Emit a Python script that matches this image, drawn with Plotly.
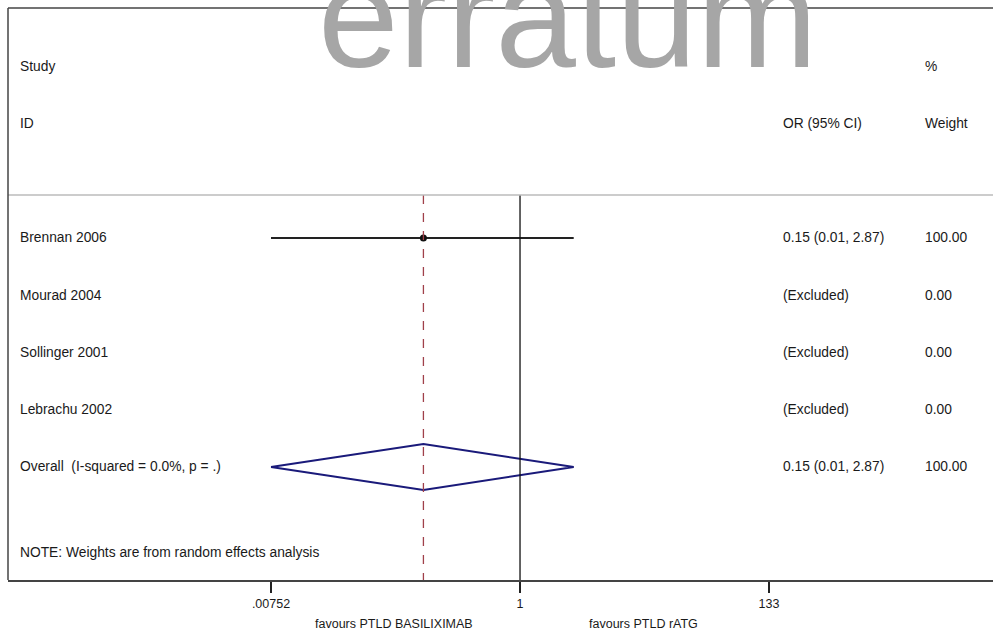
import plotly.graph_objects as go

# ---- data ----
studies = ["Brennan 2006", "Mourad 2004", "Sollinger 2001", "Lebrachu 2002"]
study_or = [0.15, None, None, None]
study_lo = [0.00752, None, None, None]
study_hi = [2.87, None, None, None]
or_text = ["0.15 (0.01, 2.87)", "(Excluded)", "(Excluded)", "(Excluded)"]
weight_text = ["100.00", "0.00", "0.00", "0.00"]
overall_label = "Overall  (I-squared = 0.0%, p = .)"
overall_or = 0.15
overall_lo = 0.00752
overall_hi = 2.87
overall_or_text = "0.15 (0.01, 2.87)"
overall_weight_text = "100.00"
tick_vals = [0.00752, 1, 133]
tick_text = [".00752", "1", "133"]

FONT = "Arial, Liberation Sans, sans-serif"
TXT = "#1a1a1a"

fig = go.Figure()

# study CI lines + point
for i, (o, lo, hi) in enumerate(zip(study_or, study_lo, study_hi)):
    if o is None:
        continue
    fig.add_trace(go.Scatter(x=[lo, hi], y=[i, i], mode="lines",
                             line=dict(color="#222222", width=2), hoverinfo="skip"))
    fig.add_trace(go.Scatter(x=[o], y=[i], mode="markers",
                             marker=dict(color="#111111", size=7), hoverinfo="skip"))

# overall diamond
oy = len(studies)
fig.add_trace(go.Scatter(x=[overall_lo, overall_or, overall_hi, overall_or, overall_lo],
                         y=[oy, oy - 0.4, oy, oy + 0.4, oy], mode="lines",
                         line=dict(color="#1a1a7a", width=2), hoverinfo="skip"))

shapes = [
    dict(type="line", xref="x", yref="y", x0=1, x1=1, y0=-0.75, y1=5.974,
         line=dict(color="#111111", width=1.3)),
    dict(type="line", xref="x", yref="y", x0=overall_or, x1=overall_or, y0=-0.75, y1=5.974,
         line=dict(color="#a0404a", width=1.3, dash="dash")),
    dict(type="line", xref="paper", yref="y", x0=0, x1=1, y0=-0.75, y1=-0.75,
         line=dict(color="#bbbbbb", width=1.5)),
    dict(type="line", xref="paper", yref="paper", x0=0, x1=1, y0=1, y1=1,
         line=dict(color="#444444", width=1.5)),
    dict(type="line", xref="paper", yref="paper", x0=0, x1=0, y0=0, y1=1,
         line=dict(color="#444444", width=1.5)),
]

ann = []
def txt(x, y, s, xref="paper", yref="y", size=13.8, xanchor="left"):
    ann.append(dict(x=x, y=y, xref=xref, yref=yref, text=s, showarrow=False,
                    xanchor=xanchor, yanchor="middle",
                    font=dict(family=FONT, size=size, color=TXT)))

X_LABEL = 0.0102
X_OR = 0.7848
X_W = 0.929
txt(X_LABEL, -3, "Study")
txt(X_LABEL, -2, "ID")
txt(X_OR, -2, "OR (95% CI)")
txt(X_W, -3, "%")
txt(X_W, -2, "Weight")
for i, s in enumerate(studies):
    txt(X_LABEL, i, s)
    txt(X_OR, i, or_text[i])
    txt(X_W, i, weight_text[i])
txt(X_LABEL, oy, overall_label)
txt(X_OR, oy, overall_or_text)
txt(X_W, oy, overall_weight_text)
txt(X_LABEL, 5.5, "NOTE: Weights are from random effects analysis")

ann.append(dict(x=0.392, y=-0.077, xref="paper", yref="paper", text="favours PTLD BASILIXIMAB",
                showarrow=False, xanchor="center", yanchor="middle",
                font=dict(family=FONT, size=12.5, color=TXT)))
ann.append(dict(x=0.645, y=-0.077, xref="paper", yref="paper", text="favours PTLD rATG",
                showarrow=False, xanchor="center", yanchor="middle",
                font=dict(family=FONT, size=12.5, color=TXT)))
ann.append(dict(x=0.569, y=0.985, xref="paper", yref="paper", text="erratum",
                showarrow=False, xanchor="center", yanchor="middle",
                font=dict(family=FONT, size=145, color="#a6a6a6")))

fig.update_layout(
    width=993, height=632, margin=dict(l=8, r=0, t=8, b=52),
    paper_bgcolor="white", plot_bgcolor="white", showlegend=False,
    shapes=shapes, annotations=ann,
    xaxis=dict(type="log", range=[-4.367, 4.034], tickvals=tick_vals, ticktext=tick_text,
               ticks="outside", ticklen=11, tickwidth=1.3, tickcolor="#222222",
               showline=True, linecolor="#444444", linewidth=1.5,
               showgrid=False, zeroline=False,
               tickfont=dict(family=FONT, size=12.5, color=TXT)),
    yaxis=dict(range=[5.974, -4.017], visible=False, showgrid=False, zeroline=False),
)

fig.write_html("out.html", config={"displayModeBar": False, "staticPlot": True},
               post_script="document.body.style.margin='0';document.body.style.overflow='hidden';")
